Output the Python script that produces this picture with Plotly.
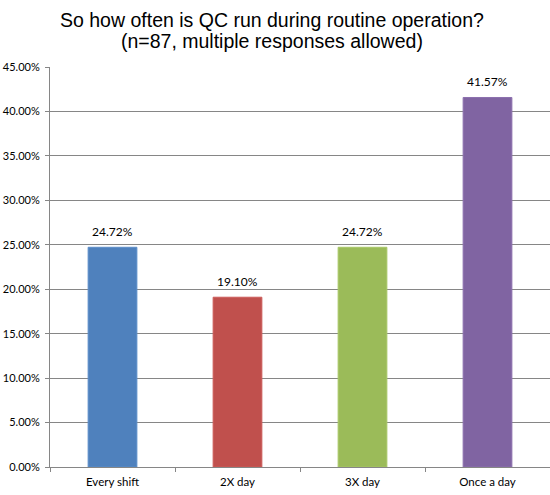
import plotly.graph_objects as go

# Survey answers
categories = ["Every shift", "2X day", "3X day", "Once a day"]
shares = [0.2472, 0.1910, 0.2472, 0.4157]
bar_colors = ["#4F81BD", "#C0504D", "#9BBB59", "#8064A2"]
edge_colors = ["#5B8DC9", "#CC5C59", "#A7C765", "#8C70AE"]
title_lines = ["So how often is QC run during routine operation?",
               "(n=87, multiple responses allowed)"]

fig = go.Figure(
    data=[
        go.Bar(
            x=categories,
            y=shares,
            width=0.39,
            marker=dict(color=bar_colors, line=dict(color=edge_colors, width=1)),
            hoverinfo="x+y",
        )
    ]
)

# value labels a bit above each bar, like Excel does
for cat, val in zip(categories, shares):
    fig.add_annotation(
        x=cat,
        y=val,
        text=f"{val:.2%}",
        showarrow=False,
        yanchor="bottom",
        yshift=6,
        font=dict(family="Lato", size=12, color="#000000"),
    )

# title, one annotation per line (tighter spacing than <br>)
for line, ypos in zip(title_lines, [1.117, 1.064]):
    fig.add_annotation(
        text=line,
        xref="paper",
        yref="paper",
        x=0.444,
        y=ypos,
        xanchor="center",
        yanchor="middle",
        showarrow=False,
        font=dict(family="Liberation Sans", size=19.5, color="#000000"),
    )

fig.update_layout(
    width=550,
    height=495,
    margin=dict(l=50, r=0, t=67, b=28),
    paper_bgcolor="white",
    plot_bgcolor="white",
    showlegend=False,
    font=dict(family="Lato", size=11, color="#000000"),
    xaxis=dict(
        showline=True,
        linecolor="#868686",
        linewidth=1,
        ticks="outside",
        tickson="boundaries",
        ticklen=4,
        tickcolor="#868686",
        showgrid=False,
        tickfont=dict(size=11.5),
        ticklabelstandoff=4,
    ),
    yaxis=dict(
        range=[0, 0.45],
        dtick=0.05,
        tickformat=".2%",
        showline=True,
        linecolor="#868686",
        linewidth=1,
        ticks="outside",
        ticklen=4,
        tickcolor="#868686",
        showgrid=True,
        gridcolor="#868686",
        gridwidth=1,
        zeroline=False,
        tickfont=dict(size=11),
        ticklabelstandoff=3,
    ),
)

# drop the default body margin so the figure sits at the window's corner
fig.write_html(
    "out.html",
    config={"displayModeBar": False},
    post_script="document.body.style.margin='0';",
)
